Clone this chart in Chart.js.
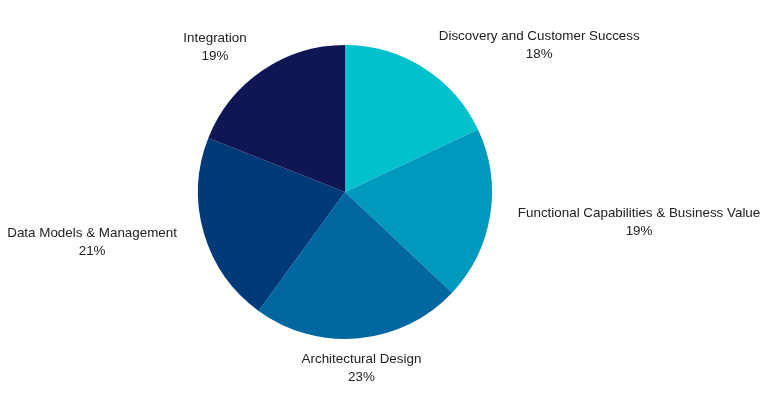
<!DOCTYPE html>
<html>
<head>
<meta charset="utf-8">
<script src="https://cdn.jsdelivr.net/npm/chart.js@4/dist/chart.umd.min.js"></script>
<style>
html,body{margin:0;padding:0;background:#fff;}
#wrap{width:768px;height:409px;}
</style>
</head>
<body>
<div id="wrap"><canvas id="c" width="768" height="409"></canvas></div>
<script>
const categories = ["Discovery and Customer Success", "Functional Capabilities & Business Value", "Architectural Design", "Data Models & Management", "Integration"];
const shares = [18, 19, 23, 21, 19];
const sliceColors = ["#00C1CC", "#0099BE", "#0067A0", "#003A78", "#101654"];

const labelPlugin = {
  id: 'outLabels',
  afterDatasetsDraw(chart) {
    const ctx = chart.ctx;
    const meta = chart.getDatasetMeta(0);
    ctx.save();
    ctx.font = '13.4px "Liberation Sans", Arial, sans-serif';
    ctx.fillStyle = '#222222';
    const lh = 18;
    meta.data.forEach((arc, i) => {
      const mid = (arc.startAngle + arc.endAngle) / 2;
      const dx = Math.cos(mid), dy = Math.sin(mid);
      const r = arc.outerRadius + 8;
      let x = arc.x + r * dx + 20 * dx;
      let y = arc.y + r * dy;
      const lines = [categories[i], shares[i] + '%'];
      const w = Math.max(...lines.map(l => ctx.measureText(l).width));
      let cx;
      if (dx > 0.3) cx = x + w / 2;
      else if (dx < -0.3) cx = x - w / 2;
      else cx = x;
      let top;
      if (dy < -0.3) top = y - 2 * lh + 2;
      else if (dy > 0.3) top = y + 4;
      else top = y + 6 - lh + (dx < 0 ? 1 : 0);
      ctx.textAlign = 'center';
      ctx.textBaseline = 'middle';
      lines.forEach((l, k) => ctx.fillText(l, cx, top + lh * k + lh / 2));
    });
    ctx.restore();
  }
};

new Chart(document.getElementById('c'), {
  type: 'pie',
  data: {
    labels: categories,
    datasets: [{ data: shares, backgroundColor: sliceColors, borderWidth: 0 }]
  },
  options: {
    responsive: false,
    animation: false,
    layout: { padding: { top: 45, bottom: 70, left: 198, right: 276 } },
    plugins: { legend: { display: false }, tooltip: { enabled: false } }
  },
  plugins: [labelPlugin]
});
</script>
</body>
</html>
